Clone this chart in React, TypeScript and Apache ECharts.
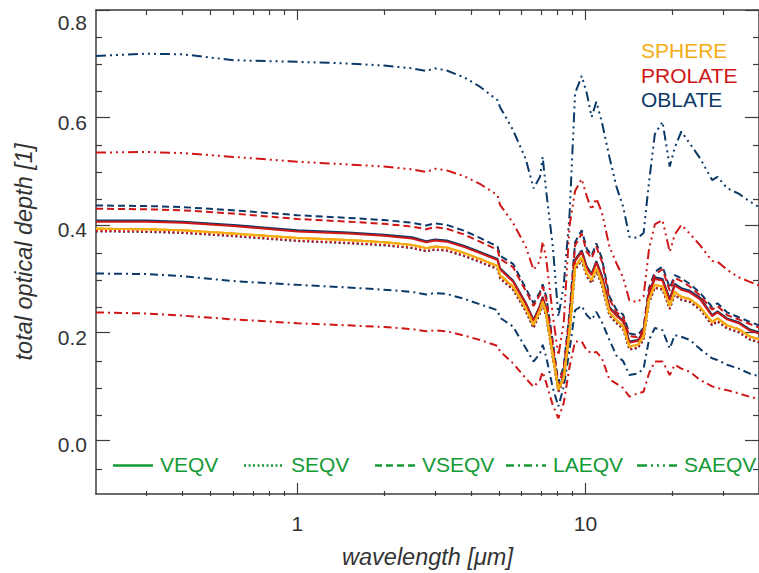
import React, { useEffect, useRef } from 'react';
import * as echarts from 'echarts';

// wavelength grid [µm]
const wavelengths = [0.2, 0.3, 0.4, 0.6, 1.0, 1.5, 2.0, 2.5, 2.8, 3.0, 3.3, 3.8, 4.3, 4.95, 5.05, 5.6, 6.2, 6.6, 6.95, 7.1, 7.3, 7.7, 8.05, 8.4, 8.8, 9.2, 9.7, 10.1, 10.5, 10.9, 11.4, 12.1, 12.8, 13.5, 14.2, 15.2, 15.9, 16.6, 17.4, 18.5, 19.6, 20.4, 21.5, 23.0, 25.0, 27.5, 28.7, 31.0, 34.0, 37.0, 40.0];

// SPHERE (all equivalence definitions coincide)
const sphere = [0.395, 0.394, 0.392, 0.386, 0.378, 0.374, 0.370, 0.365, 0.359, 0.362, 0.360, 0.350, 0.339, 0.326, 0.309, 0.288, 0.248, 0.217, 0.244, 0.260, 0.238, 0.160, 0.097, 0.118, 0.205, 0.325, 0.342, 0.312, 0.300, 0.322, 0.296, 0.240, 0.226, 0.215, 0.177, 0.180, 0.195, 0.263, 0.291, 0.288, 0.252, 0.278, 0.269, 0.265, 0.250, 0.222, 0.229, 0.216, 0.209, 0.196, 0.190];

// PROLATE
const prolateVEQV = [0.408, 0.408, 0.406, 0.400, 0.390, 0.386, 0.382, 0.377, 0.370, 0.373, 0.371, 0.361, 0.350, 0.337, 0.320, 0.297, 0.256, 0.224, 0.251, 0.267, 0.244, 0.163, 0.096, 0.120, 0.210, 0.335, 0.352, 0.322, 0.309, 0.332, 0.305, 0.248, 0.234, 0.223, 0.184, 0.187, 0.203, 0.273, 0.302, 0.299, 0.262, 0.290, 0.282, 0.277, 0.264, 0.233, 0.240, 0.227, 0.220, 0.207, 0.201];
const prolateSEQV = [0.391, 0.390, 0.388, 0.382, 0.373, 0.369, 0.365, 0.360, 0.354, 0.357, 0.355, 0.345, 0.334, 0.321, 0.304, 0.283, 0.243, 0.212, 0.239, 0.255, 0.233, 0.156, 0.094, 0.114, 0.200, 0.320, 0.337, 0.307, 0.295, 0.317, 0.291, 0.235, 0.221, 0.210, 0.172, 0.175, 0.190, 0.258, 0.286, 0.283, 0.247, 0.273, 0.264, 0.260, 0.246, 0.217, 0.224, 0.211, 0.204, 0.191, 0.185];
const prolateVSEQV = [0.432, 0.431, 0.429, 0.423, 0.413, 0.408, 0.404, 0.399, 0.394, 0.398, 0.395, 0.384, 0.371, 0.356, 0.339, 0.324, 0.280, 0.252, 0.273, 0.288, 0.265, 0.180, 0.105, 0.135, 0.235, 0.364, 0.386, 0.352, 0.340, 0.362, 0.334, 0.265, 0.240, 0.231, 0.196, 0.194, 0.208, 0.280, 0.310, 0.320, 0.280, 0.304, 0.298, 0.288, 0.271, 0.245, 0.252, 0.235, 0.227, 0.219, 0.212];
const prolateLAEQV = [0.240, 0.238, 0.234, 0.227, 0.220, 0.216, 0.213, 0.209, 0.205, 0.207, 0.205, 0.197, 0.189, 0.178, 0.168, 0.146, 0.118, 0.102, 0.115, 0.130, 0.110, 0.068, 0.044, 0.072, 0.139, 0.186, 0.186, 0.170, 0.164, 0.167, 0.155, 0.116, 0.108, 0.100, 0.084, 0.090, 0.093, 0.127, 0.149, 0.149, 0.124, 0.143, 0.136, 0.130, 0.115, 0.103, 0.100, 0.096, 0.090, 0.084, 0.080];
const prolateSAEQV = [0.536, 0.537, 0.535, 0.528, 0.519, 0.514, 0.510, 0.505, 0.500, 0.506, 0.503, 0.492, 0.478, 0.457, 0.439, 0.406, 0.362, 0.319, 0.335, 0.371, 0.340, 0.235, 0.160, 0.220, 0.400, 0.465, 0.487, 0.455, 0.430, 0.451, 0.425, 0.362, 0.331, 0.305, 0.262, 0.259, 0.270, 0.356, 0.403, 0.411, 0.352, 0.384, 0.402, 0.386, 0.364, 0.335, 0.334, 0.319, 0.305, 0.297, 0.290];

// OBLATE
const oblateVEQV = [0.410, 0.410, 0.408, 0.402, 0.392, 0.388, 0.384, 0.379, 0.372, 0.375, 0.373, 0.363, 0.352, 0.339, 0.322, 0.299, 0.258, 0.226, 0.253, 0.269, 0.246, 0.165, 0.097, 0.122, 0.213, 0.338, 0.355, 0.325, 0.312, 0.335, 0.308, 0.250, 0.236, 0.225, 0.186, 0.189, 0.205, 0.276, 0.305, 0.302, 0.265, 0.293, 0.285, 0.280, 0.267, 0.235, 0.242, 0.229, 0.222, 0.209, 0.203];
const oblateSEQV = [0.390, 0.389, 0.387, 0.381, 0.372, 0.368, 0.364, 0.359, 0.353, 0.356, 0.354, 0.344, 0.333, 0.320, 0.303, 0.282, 0.242, 0.211, 0.238, 0.254, 0.232, 0.155, 0.093, 0.113, 0.199, 0.319, 0.336, 0.306, 0.294, 0.316, 0.290, 0.234, 0.220, 0.209, 0.171, 0.174, 0.189, 0.257, 0.285, 0.282, 0.246, 0.272, 0.263, 0.259, 0.245, 0.216, 0.223, 0.210, 0.203, 0.190, 0.184];
const oblateVSEQV = [0.438, 0.437, 0.435, 0.429, 0.420, 0.415, 0.411, 0.406, 0.401, 0.405, 0.402, 0.391, 0.378, 0.362, 0.345, 0.330, 0.285, 0.257, 0.278, 0.292, 0.270, 0.185, 0.110, 0.140, 0.240, 0.370, 0.392, 0.358, 0.345, 0.368, 0.340, 0.270, 0.245, 0.236, 0.201, 0.198, 0.212, 0.285, 0.315, 0.325, 0.285, 0.309, 0.303, 0.293, 0.276, 0.250, 0.257, 0.240, 0.231, 0.223, 0.216];
const oblateLAEQV = [0.312, 0.311, 0.307, 0.298, 0.291, 0.286, 0.282, 0.278, 0.273, 0.276, 0.274, 0.265, 0.255, 0.244, 0.230, 0.214, 0.174, 0.149, 0.164, 0.180, 0.158, 0.100, 0.066, 0.102, 0.170, 0.244, 0.252, 0.235, 0.226, 0.241, 0.222, 0.189, 0.160, 0.150, 0.124, 0.127, 0.136, 0.189, 0.211, 0.207, 0.173, 0.198, 0.195, 0.189, 0.172, 0.155, 0.152, 0.143, 0.136, 0.127, 0.122];
const oblateSAEQV = [0.715, 0.719, 0.718, 0.707, 0.704, 0.701, 0.697, 0.692, 0.687, 0.692, 0.688, 0.675, 0.658, 0.633, 0.620, 0.578, 0.524, 0.470, 0.491, 0.528, 0.465, 0.362, 0.232, 0.290, 0.420, 0.646, 0.678, 0.646, 0.602, 0.630, 0.592, 0.528, 0.473, 0.436, 0.380, 0.378, 0.387, 0.480, 0.570, 0.593, 0.510, 0.545, 0.575, 0.553, 0.525, 0.485, 0.491, 0.470, 0.460, 0.446, 0.435];

// axes
const X_MIN = 0.2;
const X_MAX = 40;
const Y_MIN = -0.1;
const Y_MAX = 0.8;
const xTickLabels = [1, 10];
const xMinorTicks = [0.3, 0.4, 0.5, 0.6, 0.7, 0.8, 0.9, 2, 3, 4, 5, 6, 7, 8, 9, 20, 30];
const yTickLabels = [0, 0.2, 0.4, 0.6, 0.8];
const yMinorTicks = [-0.05, 0.05, 0.1, 0.15, 0.25, 0.3, 0.35, 0.45, 0.5, 0.55, 0.65, 0.7, 0.75];

const definitions = ['VEQV', 'SEQV', 'VSEQV', 'LAEQV', 'SAEQV'];
const shapes = ['SPHERE', 'PROLATE', 'OBLATE'];

const COLORS: Record<string, string> = { SPHERE: '#f4ad14', PROLATE: '#cf1717', OBLATE: '#0c3a68' };
const GREEN = '#149a36';
const AXIS = '#3c3c3c';
const TEXT = '#333333';
const FONT = '"Liberation Sans", Arial, Helvetica, sans-serif';

const DASH: Record<string, any> = {
  VEQV: 'solid',
  SEQV: [2, 2.5],
  VSEQV: [7, 4],
  LAEQV: [8, 4, 2, 4],
  SAEQV: [10, 4, 2, 4, 2, 4, 2, 4],
};

const seriesData: Record<string, Record<string, number[]>> = {
  OBLATE: { VEQV: oblateVEQV, SEQV: oblateSEQV, VSEQV: oblateVSEQV, LAEQV: oblateLAEQV, SAEQV: oblateSAEQV },
  PROLATE: { VEQV: prolateVEQV, SEQV: prolateSEQV, VSEQV: prolateVSEQV, LAEQV: prolateLAEQV, SAEQV: prolateSAEQV },
  SPHERE: { VEQV: sphere, SEQV: sphere, VSEQV: sphere, LAEQV: sphere, SAEQV: sphere },
};

const lg = (v: number) => Math.log10(v);

export default function App() {
  const ref = useRef<HTMLDivElement>(null);

  useEffect(() => {
    if (!ref.current) return;
    const chart = echarts.init(ref.current, null, { renderer: 'svg' });

    const grid = { left: 96, top: 10, right: -9, bottom: 77 };

    const series: any[] = [];
    ['OBLATE', 'PROLATE', 'SPHERE'].forEach((shape) => {
      definitions.forEach((def) => {
        const vals = seriesData[shape][def];
        series.push({
          type: 'line',
          name: shape + ' ' + def,
          xAxisIndex: 0,
          yAxisIndex: 0,
          data: wavelengths.map((w, i) => [w, vals[i]]),
          showSymbol: false,
          symbol: 'none',
          silent: true,
          clip: true,
          lineStyle: { color: COLORS[shape], width: 2, type: DASH[def] },
        });
      });
    });

    const hidden = { show: false };
    const noLine = { show: false, onZero: false };
    const lx0 = lg(X_MIN);
    const lx1 = lg(X_MAX);
    const titleStyle = { fontSize: 23.5, fontStyle: 'italic', color: TEXT, fontFamily: FONT };

    const xAxis: any[] = [
      { gridIndex: 0, type: 'log', logBase: 10, min: X_MIN, max: X_MAX, show: false },
      {
        gridIndex: 1, type: 'value', position: 'bottom', min: lx0, max: lx1,
        axisLine: { show: true, onZero: false, lineStyle: { color: AXIS, width: 1.5 } },
        axisTick: { show: true, inside: true, length: 11, customValues: xTickLabels.map(lg), lineStyle: { color: AXIS, width: 1.2 } },
        axisLabel: {
          customValues: xTickLabels.map(lg), margin: 19, fontSize: 21, color: TEXT, fontFamily: FONT,
          formatter: (v: number) => String(Math.round(Math.pow(10, v))),
        },
        splitLine: hidden,
        name: 'wavelength [\u03bcm]', nameLocation: 'middle', nameGap: 51,
        nameTextStyle: titleStyle,
      },
      {
        gridIndex: 1, type: 'value', position: 'top', min: lx0, max: lx1,
        axisLine: { show: true, onZero: false, lineStyle: { color: AXIS, width: 1.5 } },
        axisTick: { show: true, inside: true, length: 10, customValues: xTickLabels.map(lg), lineStyle: { color: AXIS, width: 1.2 } },
        axisLabel: hidden, splitLine: hidden,
      },
      {
        gridIndex: 2, type: 'value', position: 'bottom', min: lx0, max: lx1,
        axisLine: noLine,
        axisTick: { show: true, inside: true, length: 5, customValues: xMinorTicks.map(lg), lineStyle: { color: AXIS, width: 1.2 } },
        axisLabel: hidden, splitLine: hidden,
      },
      {
        gridIndex: 2, type: 'value', position: 'top', min: lx0, max: lx1,
        axisLine: noLine,
        axisTick: { show: true, inside: true, length: 5, customValues: xMinorTicks.map(lg), lineStyle: { color: AXIS, width: 1.2 } },
        axisLabel: hidden, splitLine: hidden,
      },
    ];

    const yAxis: any[] = [
      { gridIndex: 0, type: 'value', min: Y_MIN, max: Y_MAX, show: false },
      {
        gridIndex: 1, type: 'value', position: 'left', min: Y_MIN, max: Y_MAX,
        axisLine: { show: true, onZero: false, lineStyle: { color: AXIS, width: 1.5 } },
        axisTick: { show: true, inside: true, length: 14, customValues: yTickLabels, lineStyle: { color: AXIS, width: 1.2 } },
        axisLabel: {
          customValues: yTickLabels, margin: 9, color: TEXT, fontSize: 21, fontFamily: FONT,
          formatter: (v: number) => (v > 0.79 ? '{t|' : '{n|') + v.toFixed(1) + '}',
          rich: {
            t: { fontSize: 21, color: TEXT, fontFamily: FONT, padding: [24, 0, 0, 0] },
            n: { fontSize: 21, color: TEXT, fontFamily: FONT, padding: [9, 0, 0, 0] },
          },
        },
        splitLine: hidden,
        name: 'total optical depth [1]', nameLocation: 'middle', nameGap: 61, nameRotate: 90,
        nameTextStyle: titleStyle,
      },
      {
        gridIndex: 1, type: 'value', position: 'right', min: Y_MIN, max: Y_MAX,
        axisLine: { show: true, onZero: false, lineStyle: { color: AXIS, width: 1.5 } },
        axisTick: { show: true, inside: true, length: 14, customValues: yTickLabels, lineStyle: { color: AXIS, width: 1.2 } },
        axisLabel: hidden, splitLine: hidden,
      },
      {
        gridIndex: 2, type: 'value', position: 'left', min: Y_MIN, max: Y_MAX,
        axisLine: noLine,
        axisTick: { show: true, inside: true, length: 6, customValues: yMinorTicks, lineStyle: { color: AXIS, width: 1.2 } },
        axisLabel: hidden, splitLine: hidden,
      },
      {
        gridIndex: 2, type: 'value', position: 'right', min: Y_MIN, max: Y_MAX,
        axisLine: noLine,
        axisTick: { show: true, inside: true, length: 6, customValues: yMinorTicks, lineStyle: { color: AXIS, width: 1.2 } },
        axisLabel: hidden, splitLine: hidden,
      },
    ];

    // legend (line-style key) and shape labels
    const graphic: any[] = [];
    definitions.forEach((def, i) => {
      const x0 = 113 + i * 131;
      graphic.push({
        type: 'line', silent: true,
        shape: { x1: x0, y1: 465.5, x2: x0 + 40, y2: 465.5 },
        style: { stroke: GREEN, lineWidth: 2.5, lineDash: def === 'VEQV' ? null : DASH[def] },
      });
      graphic.push({
        type: 'text', silent: true, x: x0 + 47, y: 464.5,
        style: { text: def, fill: GREEN, fontSize: 21, fontFamily: FONT, verticalAlign: 'middle', align: 'left' },
      });
    });
    shapes.forEach((shape, i) => {
      graphic.push({
        type: 'text', silent: true, x: 641, y: 50.5 + i * 24.5,
        style: { text: shape, fill: COLORS[shape], fontSize: 21, fontFamily: FONT, verticalAlign: 'middle', align: 'left' },
      });
    });

    chart.setOption({
      animation: false,
      backgroundColor: '#ffffff',
      grid: [grid, grid, grid],
      xAxis,
      yAxis,
      series,
      graphic,
    });

    return () => chart.dispose();
  }, []);

  return (
    <div
      ref={ref}
      style={{ position: 'absolute', left: 0, top: 0, width: 759, height: 573, background: '#fff' }}
    />
  );
}
